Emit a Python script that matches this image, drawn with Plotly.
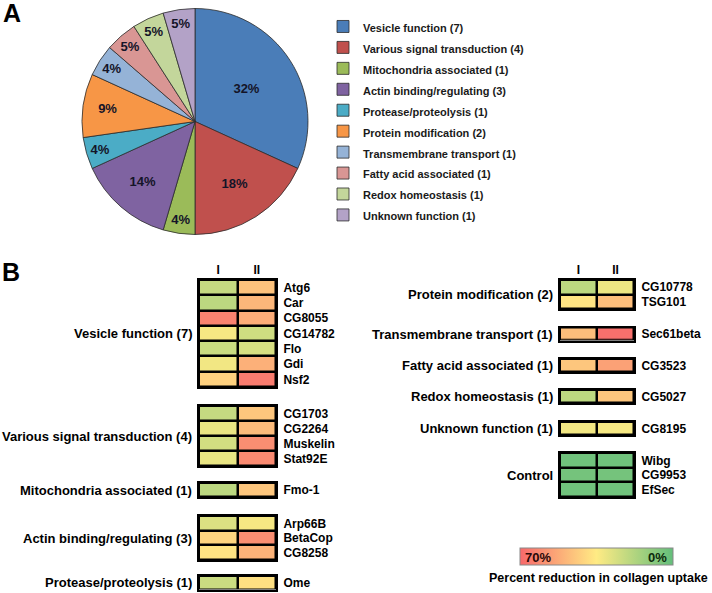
import plotly.graph_objects as go

W, H = 712, 593

# ---------------- Panel A data ----------------
pie_labels = ["Vesicle function (7)", "Various signal transduction (4)", "Mitochondria associated (1)",
              "Actin binding/regulating (3)", "Protease/proteolysis (1)", "Protein modification (2)",
              "Transmembrane transport (1)", "Fatty acid associated (1)", "Redox homeostasis (1)",
              "Unknown function (1)"]
pie_counts = [7, 4, 1, 3, 1, 2, 1, 1, 1, 1]
pie_text = ["32%", "18%", "4%", "14%", "4%", "9%", "4%", "5%", "5%", "5%"]
pie_colors = ["#4A7DB8", "#C0504D", "#9BBB59", "#7F63A1", "#4BACC6", "#F79646",
              "#95B3D7", "#D99694", "#C3D69B", "#B3A2C7"]

# ---------------- Panel B data (percent reduction, columns I and II) ----------------
groups = [
    ("Vesicle function (7)", ["Atg6", "Car", "CG8055", "CG14782", "Flo", "Gdi", "Nsf2"],
     [22, 20, 63, 33, 23, 32, 42], [46, 49, 52, 24, 26, 51, 65]),
    ("Various signal transduction (4)", ["CG1703", "CG2264", "Muskelin", "Stat92E"],
     [22, 30, 25, 30], [45, 48, 60, 61]),
    ("Mitochondria associated (1)", ["Fmo-1"], [20], [45]),
    ("Actin binding/regulating (3)", ["Arp66B", "BetaCop", "CG8258"], [27, 41, 37], [33, 60, 50]),
    ("Protease/proteolysis (1)", ["Ome"], [23], [38]),
    ("Protein modification (2)", ["CG10778", "TSG101"], [20, 37], [31, 47]),
    ("Transmembrane transport (1)", ["Sec61beta"], [47], [68]),
    ("Fatty acid associated (1)", ["CG3523"], [45], [55]),
    ("Redox homeostasis (1)", ["CG5027"], [20], [45]),
    ("Unknown function (1)", ["CG8195"], [32], [33]),
    ("Control", ["Wibg", "CG9953", "EfSec"], [3, 4, 3], [3, 4, 3]),
]
columns = ["I", "II"]
scale_labels = ["70%", "0%"]
scale_title = "Percent reduction in collagen uptake"

# layout (pixel boxes) for each block: x0, x1, y0, y1
boxes = [
    (199, 276, 280, 387),
    (199, 276, 406, 466),
    (199, 276, 483, 497),
    (199, 276, 516, 560),
    (199, 276, 576, 589.5),
    (560, 634, 280, 309),
    (560, 634, 327.5, 340.5),
    (560, 634, 359, 372),
    (560, 634, 390, 403),
    (560, 634, 422, 435),
    (560, 634, 453, 497),
]
show_header = [True, False, False, False, False, True, False, False, False, False, False]

FONT = "Liberation Sans, Arial, sans-serif"

fig = go.Figure()

fig.add_trace(go.Pie(
    labels=[f"<span style='font-size:11px'>{l}</span>" for l in pie_labels],
    values=pie_counts, text=pie_text, textinfo="text",
    customdata=pie_labels, hovertemplate="%{customdata}: %{text}<extra></extra>",
    sort=False, direction="clockwise", rotation=0,
    marker=dict(colors=pie_colors, line=dict(color="#2b2b2b", width=0.8)),
    textposition="inside", insidetextorientation="horizontal",
    textfont=dict(family=FONT, size=13, color="#141428", weight="bold"),
    domain=dict(x=[82 / W, 308 / W], y=[1 - 236 / H, 1 - 7 / H]),
    showlegend=True,
))

layout = dict(
    width=W, height=H, margin=dict(l=0, r=0, t=0, b=0),
    paper_bgcolor="white", plot_bgcolor="black",
    font=dict(family=FONT, color="black"),
    legend=dict(x=323 / W, y=1 - 11 / H, xanchor="left", yanchor="top",
                font=dict(family=FONT, size=13.8, color="#1a1a1a", weight="bold"),
                bgcolor="rgba(0,0,0,0)", itemclick=False),
    coloraxis=dict(
        colorscale=[[0, "#F8696B"], [0.5, "#FFEB84"], [1, "#63BE7B"]],
        cmin=-70, cmax=0,
        colorbar=dict(
            orientation="h", x=596 / W, xanchor="center", y=1 - 548 / H, yanchor="top",
            len=153 / W, lenmode="fraction", thickness=17, thicknessmode="pixels",
            xpad=0, ypad=0, outlinewidth=1, outlinecolor="#888888",
            showticklabels=False, ticks="",
        ),
    ),
    annotations=[],
)

for i, ((gname, genes, v1, v2), (x0, x1, y0, y1), hdr) in enumerate(zip(groups, boxes, show_header), start=1):
    sfx = "" if i == 1 else str(i)
    z = [[-a, -b] for a, b in zip(v1, v2)]
    fig.add_trace(go.Heatmap(
        z=z, x=columns, y=genes, coloraxis="coloraxis", xgap=2.5, ygap=2.5,
        xaxis=f"x{sfx}", yaxis=f"y{sfx}",
        customdata=[[a, b] for a, b in zip(v1, v2)],
        hovertemplate="%{y} %{x}: %{customdata}%<extra></extra>",
    ))
    layout[f"xaxis{sfx}"] = dict(
        domain=[x0 / W, x1 / W], anchor=f"y{sfx}", side="top", type="category",
        showticklabels=hdr, ticks="", showgrid=False, zeroline=False,
        showline=True, mirror=True, linewidth=2, linecolor="black",
        tickfont=dict(family=FONT, size=12, color="black", weight="bold"),
        ticklabelstandoff=-1, fixedrange=True,
    )
    layout[f"yaxis{sfx}"] = dict(
        domain=[1 - y1 / H, 1 - y0 / H], anchor=f"x{sfx}", side="right", type="category",
        autorange="reversed", ticks="", showgrid=False, zeroline=False,
        showline=True, mirror=True, linewidth=2, linecolor="black",
        tickfont=dict(family=FONT, size=12, color="black", weight="bold"),
        ticklabelstandoff=3, fixedrange=True,
    )
    layout["annotations"].append(dict(
        text=gname, xref=f"x{sfx} domain", yref=f"y{sfx} domain", x=0, y=0.5,
        xanchor="right", yanchor="middle", xshift=-5, showarrow=False,
        font=dict(family=FONT, size=13, color="black", weight="bold"),
    ))

# colour scale end labels and caption
layout["annotations"].append(dict(text=scale_labels[0], xref="paper", yref="paper", x=523 / W, y=1 - 557 / H,
                                  xanchor="left", yanchor="middle", showarrow=False,
                                  font=dict(family=FONT, size=13, color="#2a0808", weight="bold")))
layout["annotations"].append(dict(text=scale_labels[1], xref="paper", yref="paper", x=669 / W, y=1 - 557 / H,
                                  xanchor="right", yanchor="middle", showarrow=False,
                                  font=dict(family=FONT, size=13, color="#0c2a0c", weight="bold")))
layout["annotations"].append(dict(text=scale_title, xref="paper", yref="paper", x=598 / W, y=1 - 578 / H,
                                  xanchor="center", yanchor="middle", showarrow=False,
                                  font=dict(family=FONT, size=12.5, color="black", weight="bold")))

layout["annotations"].append(dict(text="A", xref="paper", yref="paper", x=1 / W, y=1,
                                  xanchor="left", yanchor="top", yshift=3, showarrow=False,
                                  font=dict(family=FONT, size=25, color="black", weight="bold")))
layout["annotations"].append(dict(text="B", xref="paper", yref="paper", x=0, y=1 - 256 / H,
                                  xanchor="left", yanchor="top", showarrow=False,
                                  font=dict(family=FONT, size=25, color="black", weight="bold")))

fig.update_layout(**layout)
fig.write_html("out.html", config={"displayModeBar": False},
               post_script="document.body.style.margin='0';")
